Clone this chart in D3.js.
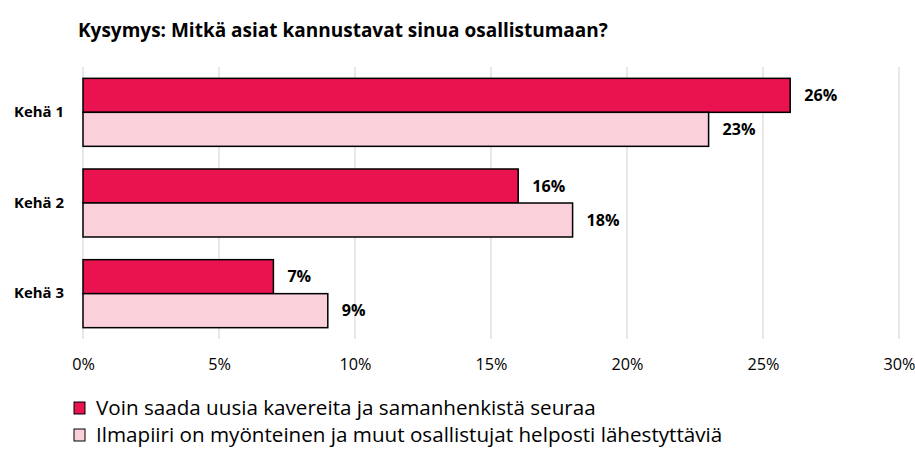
<!DOCTYPE html>
<html lang="fi">
<head>
<meta charset="UTF-8"/>
<title>Kysymys</title>
<script src="https://d3js.org/d3.v7.min.js"></script>
<style>
  body { margin: 0; background: #fff; }
  text { font-family: "Open Sans", sans-serif; fill: #000; }
</style>
</head>
<body>
<div id="chart"></div>
<script>
// data
var categories = ["Kehä 1", "Kehä 2", "Kehä 3"];
var seriesNames = [
  "Voin saada uusia kavereita ja samanhenkistä seuraa",
  "Ilmapiiri on myönteinen ja muut osallistujat helposti lähestyttäviä"
];
var seriesA = [26, 16, 7];
var seriesB = [23, 18, 9];
var xTicks = [0, 5, 10, 15, 20, 25, 30];
var colors = ["#E8134F", "#FAD1DB"];

var W = 915, H = 453;
var margin = {top: 67, left: 83, right: 16, bottom: 114};
var width = 899 - margin.left, height = 339 - margin.top;

var svg = d3.select("#chart").append("svg")
  .attr("width", W).attr("height", H);

// pick a font size so a sample string has the width seen in the picture
function fitSize(str, target, weight) {
  var t = svg.append("text").style("font-size", "20px").style("font-weight", weight).text(str);
  var w = t.node().getComputedTextLength();
  t.remove();
  return 20 * target / w;
}
var titleSize = fitSize("Kysymys: Mitkä asiat kannustavat sinua osallistumaan?", 530, "bold");
var tickSize = fitSize("10%", 32, "normal");
var catSize = fitSize("Kehä 1", 50, "bold");
var valSize = fitSize("26%", 33, "bold");
var legSize = fitSize(seriesNames[0], 500, "normal");

svg.append("text")
  .attr("x", 78).attr("y", 37)
  .style("font-size", titleSize + "px").style("font-weight", "bold")
  .text("Kysymys: Mitkä asiat kannustavat sinua osallistumaan?");

var g = svg.append("g").attr("transform", "translate(" + margin.left + "," + margin.top + ")");

var x = d3.scaleLinear().domain([0, 30]).range([0, width]);
var y = d3.scaleBand().domain(categories).range([0, height]).paddingInner(0.25).paddingOuter(0.125);
var ySub = d3.scaleBand().domain([0, 1]).range([0, y.bandwidth()]);

// gridlines
g.selectAll(".grid").data(xTicks).enter().append("line")
  .attr("x1", function(d) { return x(d); })
  .attr("x2", function(d) { return x(d); })
  .attr("y1", 0).attr("y2", height)
  .attr("stroke", "#d9d9d9").attr("stroke-width", 1.2);

// x axis labels
var xAxis = g.append("g")
  .attr("transform", "translate(0," + height + ")")
  .call(d3.axisBottom(x).tickValues(xTicks).tickSize(0).tickPadding(19).tickFormat(function(d) { return d + "%"; }));
xAxis.select(".domain").remove();
xAxis.selectAll("text").style("font-size", tickSize + "px").style("font-family", "'Open Sans', sans-serif").attr("fill", "#000");

// y axis labels
var yAxis = g.append("g")
  .call(d3.axisLeft(y).tickSize(0).tickPadding(19));
yAxis.select(".domain").remove();
yAxis.selectAll("text").style("font-size", catSize + "px").style("font-weight", "bold")
  .style("font-family", "'Open Sans', sans-serif").attr("fill", "#000");

var all = [seriesA, seriesB];
all.forEach(function(vals, si) {
  var rows = categories.map(function(c, i) { return {cat: c, v: vals[i]}; });
  g.selectAll(".bar" + si).data(rows).enter().append("rect")
    .attr("x", x(0))
    .attr("y", function(d) { return y(d.cat) + ySub(si); })
    .attr("width", function(d) { return x(d.v) - x(0); })
    .attr("height", ySub.bandwidth())
    .attr("fill", colors[si])
    .attr("stroke", "#000").attr("stroke-width", 1.5);
  g.selectAll(".lab" + si).data(rows).enter().append("text")
    .attr("x", function(d) { return x(d.v) + 14; })
    .attr("y", function(d) { return y(d.cat) + ySub(si) + ySub.bandwidth() / 2; })
    .attr("dy", "0.35em")
    .style("font-size", valSize + "px").style("font-weight", "bold")
    .text(function(d) { return d.v + "%"; });
});

// legend
var leg = svg.selectAll(".leg").data(seriesNames).enter().append("g")
  .attr("transform", function(d, i) { return "translate(74," + (402 + i * 27) + ")"; });
leg.append("rect").attr("width", 11).attr("height", 12)
  .attr("fill", function(d, i) { return colors[i]; })
  .attr("stroke", "#000").attr("stroke-width", 1);
leg.append("text").attr("x", 22).attr("y", 6).attr("dy", "0.35em")
  .style("font-size", legSize + "px")
  .text(function(d) { return d; });
</script>
</body>
</html>
